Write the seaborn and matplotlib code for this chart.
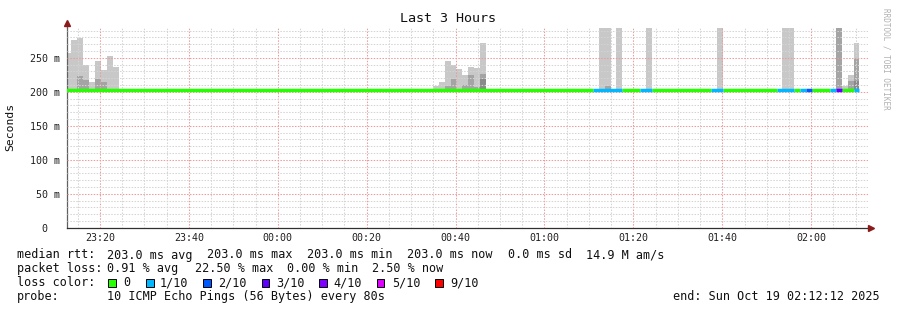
import matplotlib
matplotlib.use("Agg")
import matplotlib.pyplot as plt
from matplotlib.patches import Rectangle
from matplotlib.ticker import MultipleLocator
import pandas as pd
import seaborn as sns

# ---------------- data ----------------
title = "Last 3 Hours"
x_tick_minutes = [20, 40, 60, 80, 100, 120, 140, 160, 180]      # minutes after 23:00
x_tick_labels = ["23:20", "23:40", "00:00", "00:20", "00:40", "01:00", "01:20", "01:40", "02:00"]
y_tick_values = [0, 50, 100, 150, 200, 250]                      # ms
y_tick_labels = ["0  ", "50 m", "100 m", "150 m", "200 m", "250 m"]

first_bin_minute = 12.2          # 23:12:12
bin_minutes = 80 / 60            # one probe round every 80 s
n_bins = 134
median_rtt_ms = 203.0

smoke_bins = [0, 1, 2, 3, 4, 5, 6, 7, 8,
              62, 63, 64, 65, 66, 67, 68, 69, 70,
              90, 91, 93, 98, 110, 121, 122, 130, 131, 132, 133]
smoke_light = [257, 276, 279, 240, 214, 245, 232, 252, 236,
               208, 214, 245, 239, 233, 225, 236, 235, 272,
               294, 294, 294, 294, 294, 294, 294, 294, 208, 225, 272]
smoke_mid = [203, 203, 223, 217, 203, 219, 215, 203, 203,
             203, 203, 208, 219, 203, 210, 225, 207, 226,
             203, 209, 203, 203, 203, 203, 203, 294, 203, 216, 248]
smoke_dark = [203, 203, 203, 203, 203, 203, 203, 203, 203,
              203, 203, 203, 203, 203, 203, 203, 203, 219,
              203, 203, 203, 203, 203, 203, 203, 203, 203, 203, 216]

loss_bins = [89, 90, 91, 92, 93, 97, 98, 109, 110, 120, 121, 122, 124, 125, 129, 130, 133]
loss_counts = [1, 1, 1, 1, 1, 1, 1, 1, 1, 1, 1, 1, 1, 2, 1, 3, 1]

loss_legend_labels = ["0", "1/10", "2/10", "3/10", "4/10", "5/10", "9/10"]
loss_legend_counts = [0, 1, 2, 3, 4, 5, 9]
loss_colors = ["#26ff00", "#00b8ff", "#0059ff", "#5e00ff", "#7e00ff", "#dd00ff", "#ff0000"]

rtt_line = ["median rtt:", "203.0 ms avg", "203.0 ms max", "203.0 ms min",
            "203.0 ms now", "0.0 ms sd", "14.9 M am/s"]
loss_line = ["packet loss:", "0.91 % avg", "22.50 % max", "0.00 % min", "2.50 % now"]
probe_line = ["probe:", "10 ICMP Echo Pings (56 Bytes) every 80s"]
end_text = "end: Sun Oct 19 02:12:12 2025"
watermark = "RRDTOOL / TOBI OETIKER"
y_label = "Seconds"

# ---------------- style ----------------
sns.set_theme(style="white")
plt.rcParams["font.family"] = ["DejaVu Sans Mono", "DejaVu Sans"]
MONO = ["DejaVu Sans Mono", "DejaVu Sans"]

W, H = 897, 310
fig = plt.figure(figsize=(W / 100, H / 100), dpi=100)
fig.patch.set_facecolor("white")

x_left, x_right = 67, 868
y_zero, y_top = 227.7, 27.8
ax = fig.add_axes([x_left / W, 1 - y_zero / H, (x_right - x_left) / W, (y_zero - y_top) / H])
ax.set_facecolor("white")
ax.set_xlim(12.58, 192.78)
ax.set_ylim(0, 294)

# smoke
bin_start = {b: first_bin_minute + b * bin_minutes for b in range(n_bins)}
for tops, col in ((smoke_light, "#c8c8c8"), (smoke_mid, "#a4a4a4"), (smoke_dark, "#8a8a8a")):
    xs, hs = [], []
    for b, t in zip(smoke_bins, tops):
        if t > median_rtt_ms:
            xs.append(bin_start[b])
            hs.append(t - median_rtt_ms)
    ax.bar(xs, hs, bottom=median_rtt_ms, width=bin_minutes, align="edge",
           color=col, linewidth=0, zorder=1)

# median line coloured by loss (runs of equal loss drawn as one segment)
loss_of = {b: 0 for b in range(n_bins)}
for b, c in zip(loss_bins, loss_counts):
    loss_of[b] = c
rows = []
run = 0
prev = None
for b in range(n_bins):
    lvl = str(loss_of[b])
    if lvl != prev:
        run += 1
        rows.append({"x": bin_start[b], "y": median_rtt_ms, "seg": run, "loss": lvl})
        rows.append({"x": bin_start[b] + bin_minutes, "y": median_rtt_ms, "seg": run, "loss": lvl})
        prev = lvl
    else:
        rows[-1]["x"] = bin_start[b] + bin_minutes
df = pd.DataFrame(rows)
palette = {str(c): col for c, col in zip(loss_legend_counts, loss_colors)}
sns.lineplot(data=df, x="x", y="y", hue="loss", units="seg", estimator=None,
             palette=palette, legend=False, linewidth=2.5, solid_capstyle="butt",
             ax=ax, zorder=4, sort=False)

# grid
ax.set_axisbelow(False)
ax.set_xticks(x_tick_minutes, x_tick_labels)
ax.set_yticks(y_tick_values, y_tick_labels)
ax.xaxis.set_minor_locator(MultipleLocator(5))
ax.yaxis.set_minor_locator(MultipleLocator(10))
ax.grid(which="major", color="#f09a9a", linestyle=(0, (1.4, 1.4)), linewidth=0.75, zorder=2)
ax.grid(which="minor", color="#d4d4d4", linestyle=(0, (1.4, 1.4)), linewidth=0.75, zorder=2)
ax.set_xlabel("")
ax.set_ylabel("")
ax.tick_params(which="major", direction="inout", length=4, width=0.8, color="#404040",
               labelsize=7.2, labelcolor="#202020")
ax.tick_params(axis="x", which="major", pad=1.5)
ax.tick_params(axis="y", which="major", pad=3.2)
ax.tick_params(which="minor", length=0)
for lab in ax.get_xticklabels() + ax.get_yticklabels():
    lab.set_family(MONO)

for s in ("top", "right"):
    ax.spines[s].set_visible(False)
ax.spines["left"].set_color("#606060")
ax.spines["bottom"].set_color("#303030")
ax.spines["left"].set_linewidth(0.9)
ax.spines["bottom"].set_linewidth(0.9)
ax.plot([0], [1.022], marker="^", markersize=4.2, color="#8b1a1a", transform=ax.transAxes,
        clip_on=False, zorder=6)
ax.plot([0, 0], [1.0, 1.02], color="#606060", lw=0.9, transform=ax.transAxes, clip_on=False)
ax.plot([1.0035], [0], marker=">", markersize=4.2, color="#8b1a1a", transform=ax.transAxes,
        clip_on=False, zorder=6)


def ftxt(x, y, s, **kw):
    kw.setdefault("fontsize", 8.5)
    kw.setdefault("va", "center")
    kw.setdefault("ha", "left")
    kw.setdefault("color", "#101010")
    fig.text(x / W, 1 - y / H, s, family=MONO, **kw)


ftxt(448, 19, title, fontsize=9.6, ha="center")
ftxt(10.5, 127, y_label, fontsize=8.2, ha="center", rotation=90)
ftxt(886, 59, watermark, fontsize=5.5, ha="center", rotation=270, color="#b0b0b0")

rtt_x = [16.7, 107.3, 207.3, 307.3, 407.3, 507.6, 586.0]
for xx, s in zip(rtt_x, rtt_line):
    ftxt(xx, 255, s)
loss_x = [16.7, 107.3, 195.0, 286.7, 372.3]
for xx, s in zip(loss_x, loss_line):
    ftxt(xx, 268.3, s)
ftxt(16.7, 282.7, "loss color:")
box_x = [108.3, 146.0, 203.3, 261.7, 319.3, 376.7, 435.0]
lab_x = [123.3, 160.0, 218.3, 276.0, 333.3, 391.7, 450.0]
for bx, lx, lab, col in zip(box_x, lab_x, loss_legend_labels, loss_colors):
    fig.add_artist(Rectangle((bx / W, 1 - 286.7 / H), 7.6 / W, 7.6 / H,
                             transform=fig.transFigure, facecolor=col,
                             edgecolor="#000000", linewidth=0.7))
    ftxt(lx, 282.7, lab)
ftxt(16.7, 296.7, probe_line[0])
ftxt(107.3, 296.7, probe_line[1])
ftxt(880, 296.7, end_text, ha="right")

fig.savefig("out.png", dpi=100, facecolor="white")
